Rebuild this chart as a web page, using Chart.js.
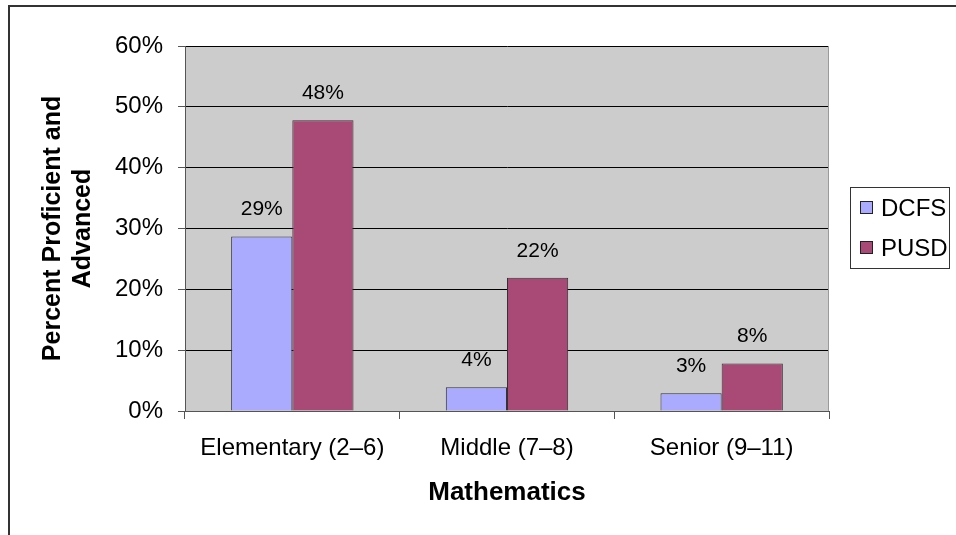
<!DOCTYPE html>
<html>
<head>
<meta charset="utf-8">
<script src="https://cdn.jsdelivr.net/npm/chart.js@4/dist/chart.umd.min.js"></script>
<style>
  html, body { margin: 0; padding: 0; background: #ffffff; }
  #wrap { width: 956px; height: 535px; position: relative; }
</style>
</head>
<body>
<div id="wrap"><canvas id="c" width="956" height="535"></canvas></div>
<script>
// ---- data ----
const categories = ['Elementary (2–6)', 'Middle (7–8)', 'Senior (9–11)'];
const seriesNames = ['DCFS', 'PUSD'];
const dcfsValues = [28.7, 3.9, 2.9];
const pusdValues = [47.8, 21.9, 7.8];
const yTickValues = [0, 10, 20, 30, 40, 50, 60];
const yTitle = ['Percent Proficient and', 'Advanced'];
const xTitle = 'Mathematics';

const FONT = '"Liberation Sans", Arial, Helvetica, sans-serif';
const seriesColors = ['#AAAAFF', '#A94A76'];

const backgroundPlugin = {
  id: 'bgPlot',
  beforeDraw(chart) {
    const { ctx, chartArea: a } = chart;
    ctx.save();
    ctx.fillStyle = '#ffffff';
    ctx.fillRect(0, 0, chart.width, chart.height);
    ctx.fillStyle = '#CCCCCC';
    ctx.fillRect(a.left, a.top, a.right - a.left, a.bottom - a.top);
    ctx.restore();
  },
  afterDraw(chart) {
    const { ctx, chartArea: a } = chart;
    ctx.save();
    // plot area right edge
    ctx.strokeStyle = '#9a9a9a';
    ctx.lineWidth = 1;
    ctx.beginPath();
    ctx.moveTo(Math.round(a.right) - 0.5, a.top);
    ctx.lineTo(Math.round(a.right) - 0.5, a.bottom);
    ctx.stroke();
    // outer chart border
    ctx.strokeStyle = '#333333';
    ctx.lineWidth = 2;
    ctx.strokeRect(9, 6, chart.width + 10, chart.height + 10);
    ctx.restore();
  }
};

const valueLabelPlugin = {
  id: 'valueLabels',
  afterDatasetsDraw(chart) {
    const { ctx } = chart;
    ctx.save();
    ctx.font = '21px ' + FONT;
    ctx.fillStyle = '#000000';
    ctx.textAlign = 'center';
    ctx.textBaseline = 'middle';
    chart.data.datasets.forEach((ds, i) => {
      const meta = chart.getDatasetMeta(i);
      meta.data.forEach((bar, j) => {
        ctx.fillText(Math.round(ds.data[j]) + '%', bar.x, bar.y - 27);
      });
    });
    ctx.restore();
  }
};

const legendPlugin = {
  id: 'boxLegend',
  afterDraw(chart) {
    const { ctx } = chart;
    const bx = 850, by = 187, bw = 99, bh = 81;
    ctx.save();
    ctx.fillStyle = '#ffffff';
    ctx.fillRect(bx, by, bw, bh);
    ctx.strokeStyle = '#333333';
    ctx.lineWidth = 1;
    ctx.strokeRect(bx + 0.5, by + 0.5, bw, bh);
    ctx.font = '24px ' + FONT;
    ctx.textBaseline = 'middle';
    ctx.textAlign = 'left';
    chart.data.datasets.forEach((ds, i) => {
      const cy = by + 21 + i * 40;
      ctx.fillStyle = ds.backgroundColor;
      ctx.fillRect(861, cy - 6, 11, 11);
      ctx.strokeStyle = '#222222';
      ctx.strokeRect(860.5, cy - 6.5, 12, 12);
      ctx.fillStyle = '#000000';
      ctx.fillText(ds.label, 881, cy + 1);
    });
    ctx.restore();
  }
};

new Chart(document.getElementById('c'), {
  type: 'bar',
  data: {
    labels: categories,
    datasets: [
      { label: seriesNames[0], data: dcfsValues, backgroundColor: seriesColors[0], borderColor: '#333333', borderWidth: 1 },
      { label: seriesNames[1], data: pusdValues, backgroundColor: seriesColors[1], borderColor: '#333333', borderWidth: 1 }
    ]
  },
  options: {
    responsive: false,
    animation: false,
    devicePixelRatio: 1,
    layout: { padding: { top: 46, right: 127, bottom: 0, left: 0 } },
    datasets: { bar: { categoryPercentage: 0.57, barPercentage: 1.0 } },
    plugins: { legend: { display: false }, tooltip: { enabled: false } },
    scales: {
      x: {
        offset: true,
        grid: { offset: true, drawOnChartArea: false, drawTicks: true, tickLength: 8, tickColor: '#555555', lineWidth: 1 },
        border: { display: true, color: '#555555', width: 1 },
        ticks: { color: '#000000', font: { family: FONT, size: 24 }, padding: 15, maxRotation: 0, autoSkip: false },
        title: { display: true, text: xTitle, color: '#000000', font: { family: FONT, size: 26, weight: 'bold' }, padding: { top: 0, bottom: 27 } },
        afterFit(scale) { scale.height = 124; }
      },
      y: {
        min: 0,
        max: 60,
        afterBuildTicks(scale) { scale.ticks = yTickValues.map(v => ({ value: v })); },
        grid: { color: '#000000', lineWidth: 1, drawTicks: true, tickLength: 7, tickColor: '#555555' },
        border: { display: true, color: '#555555', width: 1 },
        ticks: { color: '#000000', font: { family: FONT, size: 24 }, padding: 15, callback: v => v + '%' },
        title: { display: true, text: yTitle, color: '#000000', font: { family: FONT, size: 25, weight: 'bold' }, padding: { top: 38, bottom: 0 } },
        afterFit(scale) { scale.width = 185; }
      }
    }
  },
  plugins: [backgroundPlugin, valueLabelPlugin, legendPlugin]
});
</script>
</body>
</html>
